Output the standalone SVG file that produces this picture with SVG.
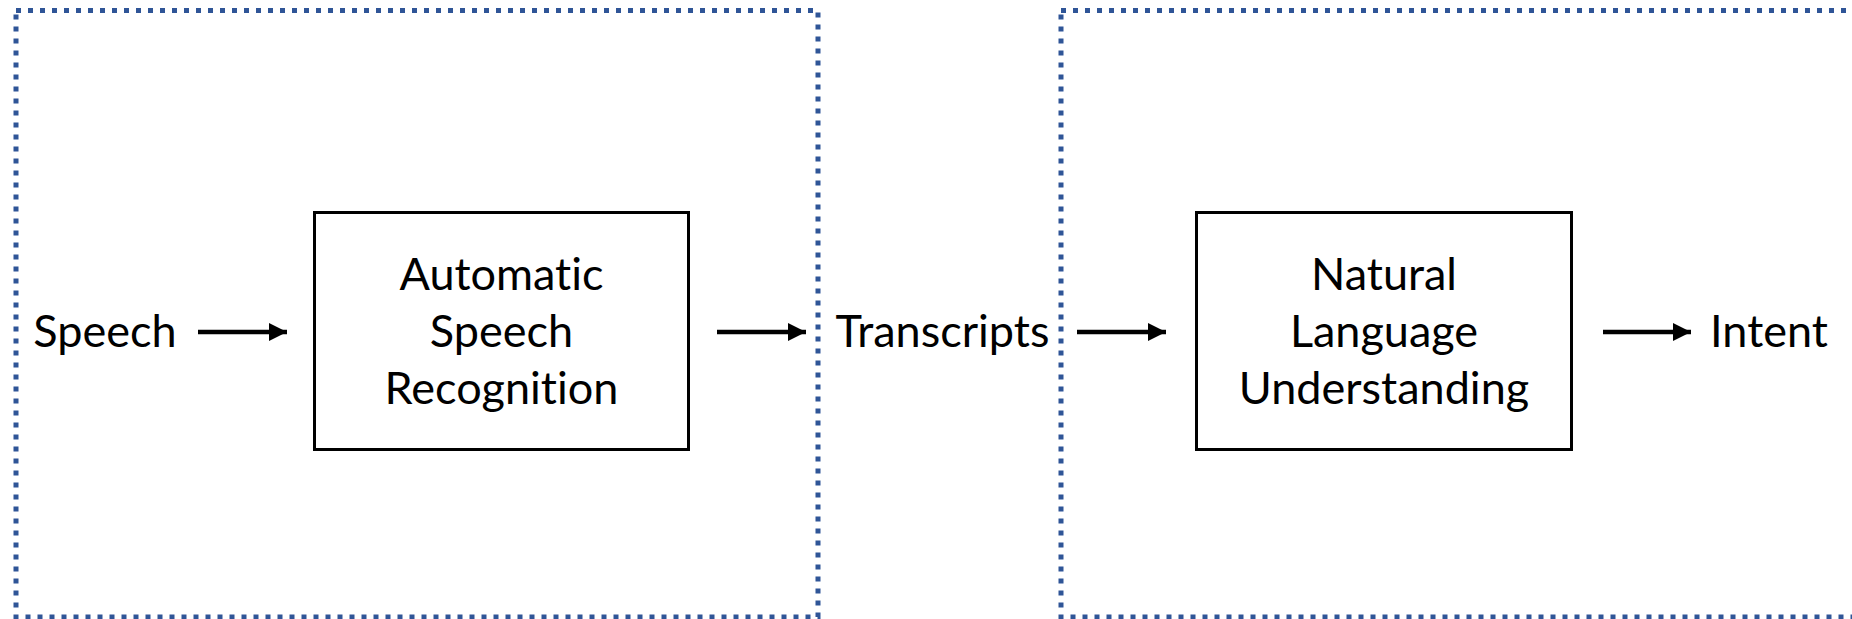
<svg xmlns="http://www.w3.org/2000/svg" width="1852" height="619" viewBox="0 0 1852 619">
  <style>
    .stage { fill: none; stroke: #2F5597; stroke-width: 5; stroke-dasharray: 5 7; }
    .block { fill: #FFFFFF; stroke: #000000; stroke-width: 3; }
    .label { font-family: Lato, "Open Sans", sans-serif; font-size: 45px; fill: #000000; text-anchor: middle; font-variant-ligatures: none; font-feature-settings: "liga" 0, "clig" 0; }
    .flow { stroke: #000000; stroke-width: 4.5; fill: none; }
  </style>
  <defs>
    <marker id="head" viewBox="0 0 18 18" refX="18" refY="9" markerWidth="18" markerHeight="18" markerUnits="userSpaceOnUse" orient="auto">
      <path d="M0,0 L18,9 L0,18 Z" fill="#000000"/>
    </marker>
  </defs>
  <rect width="1852" height="619" fill="#FFFFFF"/>

  <!-- pipeline stages -->
  <g id="stage-asr">
    <rect class="stage" x="16" y="10.5" width="802" height="606.5"/>
  </g>
  <g id="stage-nlu">
    <rect class="stage" x="1061" y="10.5" width="820" height="606.5"/>
  </g>

  <!-- endpoints -->
  <g id="speech">
    <text class="label" x="105" y="347">Speech</text>
  </g>
  <g id="transcripts">
    <text class="label" x="942.5" y="347">Transcripts</text>
  </g>
  <g id="intent">
    <text class="label" x="1769" y="347">Intent</text>
  </g>

  <!-- processing blocks -->
  <g id="asr">
    <rect class="block" x="314.5" y="212.5" width="374" height="237"/>
    <text class="label" x="501.5" y="290">Automatic</text>
    <text class="label" x="501.5" y="347">Speech</text>
    <text class="label" x="501.5" y="404">Recognition</text>
  </g>
  <g id="nlu">
    <rect class="block" x="1196.5" y="212.5" width="375" height="237"/>
    <text class="label" x="1384" y="290">Natural</text>
    <text class="label" x="1384" y="347">Language</text>
    <text class="label" x="1384" y="404">Understanding</text>
  </g>

  <!-- connectors -->
  <g id="connectors">
    <line class="flow" x1="198" y1="332" x2="287" y2="332" marker-end="url(#head)"/>
    <line class="flow" x1="717" y1="332" x2="806" y2="332" marker-end="url(#head)"/>
    <line class="flow" x1="1077" y1="332" x2="1166" y2="332" marker-end="url(#head)"/>
    <line class="flow" x1="1603" y1="332" x2="1691" y2="332" marker-end="url(#head)"/>
  </g>
</svg>
